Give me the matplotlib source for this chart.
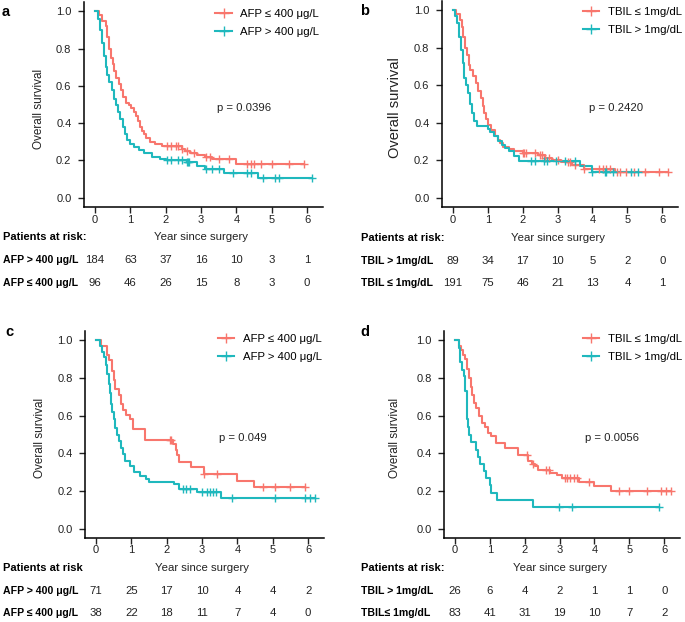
import numpy as np
import matplotlib
matplotlib.use("Agg")
import matplotlib.pyplot as plt
from matplotlib.transforms import blended_transform_factory
from matplotlib.lines import Line2D

plt.rcParams['font.family'] = ['Liberation Sans', 'DejaVu Sans']

RED = '#F8766D'
TEAL = '#1FB8BD'

# ---------------- data ----------------
# Panel a
a_red_t = [0, 0.11, 0.2, 0.3, 0.35, 0.4, 0.45, 0.5, 0.55, 0.6, 0.68, 0.75, 0.8, 0.87, 0.95, 1.03, 1.1, 1.16,
           1.22, 1.27, 1.32, 1.38, 1.45, 1.55, 1.7, 1.9, 2.45, 2.55, 2.7, 2.9, 3.1, 3.3, 3.98]
a_red_s = [1.0, 0.98, 0.95, 0.92, 0.86, 0.8, 0.75, 0.72, 0.68, 0.64, 0.61, 0.58, 0.54, 0.51, 0.5, 0.48, 0.46, 0.44,
           0.41, 0.38, 0.36, 0.34, 0.32, 0.3, 0.29, 0.275, 0.26, 0.25, 0.24, 0.23, 0.22, 0.21, 0.18]
a_red_c = [2.05, 2.15, 2.3, 2.35, 2.45, 2.6, 2.8, 3.15, 3.25, 3.5, 3.8, 4.3, 4.4, 4.5, 4.7, 5.0, 5.5, 5.9]
a_teal_t = [0, 0.1, 0.15, 0.2, 0.25, 0.3, 0.35, 0.4, 0.47, 0.55, 0.6, 0.65, 0.72, 0.78, 0.85, 0.92, 1.0, 1.1,
            1.25, 1.4, 1.6, 1.85, 2.0, 2.6, 2.9, 3.1, 3.65, 4.6]
a_teal_s = [1.0, 0.96, 0.9, 0.83, 0.76, 0.7, 0.66, 0.62, 0.58, 0.53, 0.5, 0.46, 0.42, 0.38, 0.34, 0.31, 0.29, 0.27,
            0.255, 0.24, 0.22, 0.21, 0.2, 0.19, 0.17, 0.155, 0.13, 0.105]
a_teal_c = [2.05, 2.15, 2.35, 2.45, 2.6, 2.62, 2.65, 3.15, 3.3, 3.5, 3.9, 4.3, 4.42, 4.75, 5.1, 5.2, 6.15]

# Panel b
b_red_t = [0, 0.1, 0.2, 0.25, 0.3, 0.35, 0.4, 0.45, 0.5, 0.58, 0.65, 0.72, 0.8, 0.86, 0.9, 0.95, 1.0, 1.1, 1.2,
           1.28, 1.36, 1.45, 1.6, 1.75, 2.0, 2.45, 2.65, 2.85, 3.1, 3.4, 3.75, 4.65]
b_red_s = [1.0, 0.98, 0.95, 0.91, 0.86, 0.8, 0.76, 0.71, 0.68, 0.65, 0.61, 0.57, 0.53, 0.49, 0.45, 0.42, 0.39, 0.36,
           0.33, 0.31, 0.29, 0.27, 0.26, 0.25, 0.24, 0.23, 0.21, 0.2, 0.19, 0.175, 0.155, 0.135]
b_red_c = [2.0, 2.05, 2.1, 2.35, 2.5, 2.55, 2.65, 2.75, 3.0, 3.3, 3.35, 3.5, 3.75, 4.2, 4.3, 4.4, 4.5, 4.7, 4.8,
           4.95, 5.2, 5.5, 5.9, 6.15]
b_teal_t = [0, 0.06, 0.12, 0.18, 0.22, 0.28, 0.33, 0.38, 0.44, 0.5, 0.56, 0.62, 0.7, 1.0, 1.06, 1.18, 1.3, 1.4,
            1.5, 1.62, 1.75, 1.9, 3.65, 4.0]
b_teal_s = [1.0, 0.97, 0.93, 0.86, 0.79, 0.72, 0.64, 0.6, 0.56, 0.5, 0.45, 0.41, 0.385, 0.365, 0.35, 0.33, 0.3,
            0.28, 0.265, 0.25, 0.22, 0.195, 0.168, 0.137]
b_teal_c = [2.25, 2.35, 2.6, 2.7, 2.95, 3.2, 3.5, 4.0, 4.35, 4.4, 4.6, 5.1, 5.3]

# Panel c
c_red_t = [0, 0.15, 0.3, 0.37, 0.46, 0.5, 0.53, 0.64, 0.71, 0.77, 0.86, 0.95, 1.05, 1.4, 2.18, 2.25, 2.3, 2.36,
           2.68, 3.05, 3.98, 4.47]
c_red_s = [1.0, 0.97, 0.92, 0.895, 0.84, 0.79, 0.74, 0.71, 0.66, 0.63, 0.605, 0.58, 0.53, 0.47, 0.45, 0.42, 0.39,
           0.355, 0.325, 0.29, 0.255, 0.22]
c_red_c = [2.1, 2.13, 3.05, 3.42, 4.72, 5.05, 5.5, 5.9]
c_teal_t = [0, 0.12, 0.18, 0.22, 0.27, 0.32, 0.36, 0.39, 0.42, 0.46, 0.5, 0.55, 0.6, 0.65, 0.7, 0.76, 0.83, 0.95,
            1.08, 1.25, 1.42, 1.5, 2.22, 2.35, 2.85, 3.55]
c_teal_s = [1.0, 0.97, 0.94, 0.91, 0.87, 0.82, 0.77, 0.72, 0.66, 0.62, 0.58, 0.535, 0.5, 0.465, 0.43, 0.395, 0.36,
            0.33, 0.3, 0.28, 0.265, 0.25, 0.235, 0.21, 0.195, 0.16]
c_teal_c = [2.45, 2.55, 2.65, 3.0, 3.15, 3.22, 3.3, 3.4, 3.85, 5.05, 5.9, 6.05, 6.2]

# Panel d
d_red_t = [0, 0.12, 0.17, 0.24, 0.3, 0.36, 0.4, 0.45, 0.5, 0.55, 0.62, 0.7, 0.78, 0.86, 0.95, 1.05, 1.18, 1.45,
           1.8, 2.1, 2.2, 2.3, 2.38, 2.74, 2.93, 3.07, 3.55, 4.0, 4.48]
d_red_s = [1.0, 0.97, 0.95, 0.92, 0.9, 0.85, 0.8, 0.75, 0.71, 0.67, 0.64, 0.6, 0.56, 0.54, 0.51, 0.49, 0.455, 0.43,
           0.39, 0.36, 0.345, 0.33, 0.31, 0.295, 0.285, 0.27, 0.245, 0.225, 0.2]
d_red_c = [2.08, 2.25, 2.6, 2.7, 3.15, 3.22, 3.3, 3.4, 3.5, 3.85, 4.7, 5.0, 5.5, 5.9, 6.05, 6.2]
d_teal_t = [0, 0.12, 0.15, 0.2, 0.25, 0.3, 0.34, 0.36, 0.39, 0.41, 0.47, 0.6, 0.67, 0.72, 0.85, 0.9, 1.0, 1.05,
            1.2, 2.23]
d_teal_s = [1.0, 0.96, 0.885, 0.845, 0.81, 0.73, 0.65, 0.58, 0.54, 0.5, 0.46, 0.42, 0.38, 0.345, 0.305, 0.27,
            0.23, 0.19, 0.15, 0.115]
d_teal_c = [2.98, 3.35, 5.85]

years = [0, 1, 2, 3, 4, 5, 6]
a_risk1 = [184, 63, 37, 16, 10, 3, 1]
a_risk2 = [96, 46, 26, 15, 8, 3, 0]
b_risk1 = [89, 34, 17, 10, 5, 2, 0]
b_risk2 = [191, 75, 46, 21, 13, 4, 1]
c_risk1 = [71, 25, 17, 10, 4, 4, 2]
c_risk2 = [38, 22, 18, 11, 7, 4, 0]
d_risk1 = [26, 6, 4, 2, 1, 1, 0]
d_risk2 = [83, 41, 31, 19, 10, 7, 2]

W, H = 685, 622
fig = plt.figure(figsize=(W / 100, H / 100), dpi=100)

FS = 8.2       # general text
FS_TICK = 8.0
FS_LAB = 7.6   # bold risk-table labels
FS_HDR = 8.0   # bold "Patients at risk"
TXT = '#222222'


def px_axes(left, top, width, height):
    return fig.add_axes([left / W, 1 - (top + height) / H, width / W, height / H])


def km(ax, t, s, cens, color):
    t = list(t)
    s = list(s)
    end = max(cens[-1], t[-1])
    ax.step(t + [end], s + [s[-1]], where='post', color=color, lw=1.5, zorder=3)
    idx = np.searchsorted(np.array(t), np.array(cens), side='right') - 1
    cy = np.array(s)[idx]
    ax.plot(cens, cy, ls='none', marker='+', ms=6, mew=1.0, color=color, zorder=4)


def panel(left, top, width, height, letter, letter_xy, curves, labels, pval, pxy,
          ylab_size, ylab_x, risk_hdr, risk_labels, risks, risk_ys, lab_x, tick_y, leg_anchor):
    ax = px_axes(left, top, width, height)
    for (t, s, c, col) in curves:
        km(ax, t, s, c, col)
    ax.set_xlim(-0.31, 6.45)
    ax.set_ylim(-0.05, 1.05)
    ax.set_xticks(years)
    ax.set_xticklabels([])
    ax.set_yticks([0, 0.2, 0.4, 0.6, 0.8, 1.0])
    ax.set_yticklabels(['0.0', '0.2', '0.4', '0.6', '0.8', '1.0'])
    for sp in ['top', 'right']:
        ax.spines[sp].set_visible(False)
    for sp in ['left', 'bottom']:
        ax.spines[sp].set_linewidth(1.1)
    ax.tick_params(axis='both', direction='out', length=4, width=1.0, labelsize=FS_TICK, colors=TXT)
    ax.tick_params(axis='y', pad=5)
    # legend
    handles = [Line2D([], [], color=curves[0][3], lw=1.5, marker='+', ms=7, mew=1.0),
               Line2D([], [], color=curves[1][3], lw=1.5, marker='+', ms=7, mew=1.0)]
    ax.legend(handles, labels, loc='upper right', bbox_to_anchor=leg_anchor, frameon=False, fontsize=FS,
              handlelength=1.45, handletextpad=0.75, labelspacing=0.7, borderaxespad=0.0, borderpad=0.0)
    ax.text(pxy[0], pxy[1], pval, fontsize=FS, ha='left', va='center', color=TXT)
    fig.text(ylab_x / W, 1 - (top + 107) / H, 'Overall survival', rotation=90, ha='center', va='center',
             fontsize=ylab_size, color=TXT)
    fig.text(letter_xy[0] / W, 1 - letter_xy[1] / H, letter, fontsize=10.5, fontweight='bold', ha='left',
             va='center')
    tr = blended_transform_factory(ax.transData, fig.transFigure)
    for yv in years:
        fig.text(yv, 1 - tick_y / H, str(yv), transform=tr, ha='center', va='center', fontsize=FS_TICK,
                 color=TXT)
    fig.text(lab_x / W, 1 - risk_ys[0] / H, risk_hdr, fontsize=FS_HDR, fontweight='bold', ha='left',
             va='center')
    fig.text(3, 1 - risk_ys[0] / H, 'Year since surgery', transform=tr, ha='center', va='center', fontsize=FS,
             color=TXT)
    for lab, row, yy in zip(risk_labels, risks, risk_ys[1:]):
        fig.text(lab_x / W, 1 - yy / H, lab, fontsize=FS_LAB, fontweight='bold', ha='left', va='center')
        for yv, n in zip(years, row):
            fig.text(yv, 1 - yy / H, str(n), transform=tr, ha='center', va='center', fontsize=FS,
                     color=TXT)
    return ax


panel(84, 2, 239, 205, 'a', (2, 12),
      [(a_red_t, a_red_s, a_red_c, RED), (a_teal_t, a_teal_s, a_teal_c, TEAL)],
      ['AFP ≤ 400 μg/L', 'AFP > 400 μg/L'], 'p = 0.0396', (3.44, 0.48),
      8.5, 39, 'Patients at risk:', ['AFP > 400 μg/L', 'AFP ≤ 400 μg/L'], [a_risk1, a_risk2],
      [237, 260, 283], 3, 220, (0.985, 0.965))

panel(442, 1, 236, 206, 'b', (360, 11),
      [(b_red_t, b_red_s, b_red_c, RED), (b_teal_t, b_teal_s, b_teal_c, TEAL)],
      ['TBIL ≤ 1mg/dL', 'TBIL > 1mg/dL'], 'p = 0.2420', (3.9, 0.48),
      10.5, 395, 'Patients at risk:', ['TBIL > 1mg/dL', 'TBIL ≤ 1mg/dL'], [b_risk1, b_risk2],
      [238, 261, 283], 361, 220, (1.017, 0.97))

panel(85, 331, 239, 207, 'c', (5, 332),
      [(c_red_t, c_red_s, c_red_c, RED), (c_teal_t, c_teal_s, c_teal_c, TEAL)],
      ['AFP ≤ 400 μg/L', 'AFP > 400 μg/L'], 'p = 0.049', (3.47, 0.48),
      8.5, 40, 'Patients at risk', ['AFP > 400 μg/L', 'AFP ≤ 400 μg/L'], [c_risk1, c_risk2],
      [568, 591, 613], 3, 550, (0.99, 0.985))

panel(444, 331, 236, 207, 'd', (360, 332),
      [(d_red_t, d_red_s, d_red_c, RED), (d_teal_t, d_teal_s, d_teal_c, TEAL)],
      ['TBIL ≤ 1mg/dL', 'TBIL > 1mg/dL'], 'p = 0.0056', (3.72, 0.48),
      8.5, 395, 'Patients at risk:', ['TBIL > 1mg/dL', 'TBIL≤ 1mg/dL'], [d_risk1, d_risk2],
      [568, 591, 613], 361, 550, (1.008, 0.985))

fig.savefig('out.png', dpi=100)
